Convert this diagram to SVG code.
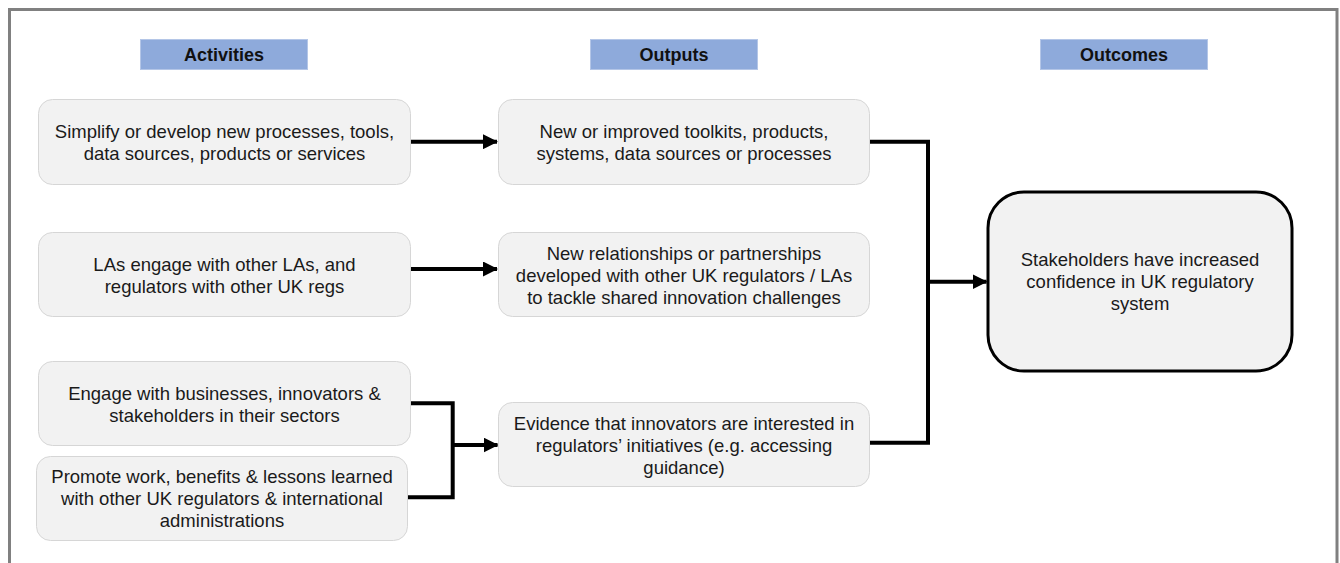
<svg xmlns="http://www.w3.org/2000/svg" width="1340" height="563" viewBox="0 0 1340 563">
<style>
.hdr{fill:#8EAADB;stroke:#B4C6E7;stroke-width:1}
.hdrt{font-family:"Liberation Sans",Arial,sans-serif;font-size:18px;font-weight:bold;fill:#111;text-anchor:middle}
.box{fill:#F2F2F2;stroke:#D6D6D6;stroke-width:1}
.out{fill:#F2F2F2;stroke:#000;stroke-width:3}
.t{font-family:"Liberation Sans",Arial,sans-serif;font-size:18.5px;fill:#1a1a1a;text-anchor:middle}
.c{fill:none;stroke:#000;stroke-width:4}
</style>
<defs>
<marker id="ah" markerUnits="userSpaceOnUse" markerWidth="15" markerHeight="15" refX="14" refY="7.5" orient="auto">
<path d="M0,0 L15,7.5 L0,15 z" fill="#000"/>
</marker>
</defs>
<rect x="0" y="0" width="1340" height="563" fill="#fff"/>
<rect x="9.5" y="9.5" width="1327.5" height="620" fill="none" stroke="#808080" stroke-width="3"/>

<g id="hdr-activities"><rect class="hdr" x="140.5" y="39.5" width="167" height="30"/><text class="hdrt" x="224" y="60.5">Activities</text></g>
<g id="hdr-outputs"><rect class="hdr" x="590.5" y="39.5" width="167" height="30"/><text class="hdrt" x="674" y="60.5">Outputs</text></g>
<g id="hdr-outcomes"><rect class="hdr" x="1040.5" y="39.5" width="167" height="30"/><text class="hdrt" x="1124" y="60.5">Outcomes</text></g>

<g id="connectors">
<path class="c" d="M410,141.7 H497" marker-end="url(#ah)"/>
<path class="c" d="M410,269 H497" marker-end="url(#ah)"/>
<path class="c" d="M410.5,403.3 H452.7 V497.3 H407"/>
<path class="c" d="M452.7,445 H497.5" marker-end="url(#ah)"/>
<path class="c" d="M869,141.7 H928 V442.7 H869"/>
<path class="c" d="M928,281.7 H986.5" marker-end="url(#ah)"/>
</g>

<g id="a1"><rect class="box" x="38.5" y="99.5" width="372" height="85" rx="14"/>
<text class="t" x="224.5" y="138">Simplify or develop new processes, tools,</text>
<text class="t" x="224.5" y="160">data sources, products or services</text></g>

<g id="a2"><rect class="box" x="38.5" y="232.5" width="372" height="84" rx="14"/>
<text class="t" x="224.5" y="270.5">LAs engage with other LAs, and</text>
<text class="t" x="224.5" y="292.5">regulators with other UK regs</text></g>

<g id="a3"><rect class="box" x="38.5" y="361.5" width="372" height="84" rx="14"/>
<text class="t" x="224.5" y="399.5">Engage with businesses, innovators &amp;</text>
<text class="t" x="224.5" y="421.5">stakeholders in their sectors</text></g>

<g id="a4"><rect class="box" x="36.5" y="456.5" width="371" height="84" rx="14"/>
<text class="t" x="222" y="482.5">Promote work, benefits &amp; lessons learned</text>
<text class="t" x="222" y="504.5">with other UK regulators &amp; international</text>
<text class="t" x="222" y="526.5">administrations</text></g>

<g id="o1"><rect class="box" x="498.5" y="99.5" width="371" height="85" rx="14"/>
<text class="t" x="684" y="138">New or improved toolkits, products,</text>
<text class="t" x="684" y="160">systems, data sources or processes</text></g>

<g id="o2"><rect class="box" x="498.5" y="232.5" width="371" height="84" rx="14"/>
<text class="t" x="684" y="259.5">New relationships or partnerships</text>
<text class="t" x="684" y="281.5">developed with other UK regulators / LAs</text>
<text class="t" x="684" y="303.5">to tackle shared innovation challenges</text></g>

<g id="o3"><rect class="box" x="498.5" y="402.5" width="371" height="84" rx="14"/>
<text class="t" x="684" y="429.5">Evidence that innovators are interested in</text>
<text class="t" x="684" y="451.5">regulators’ initiatives (e.g. accessing</text>
<text class="t" x="684" y="473.5">guidance)</text></g>

<g id="outcome"><rect class="out" x="988" y="192" width="304" height="179" rx="36"/>
<text class="t" x="1140" y="266">Stakeholders have increased</text>
<text class="t" x="1140" y="288">confidence in UK regulatory</text>
<text class="t" x="1140" y="310">system</text></g>
</svg>
